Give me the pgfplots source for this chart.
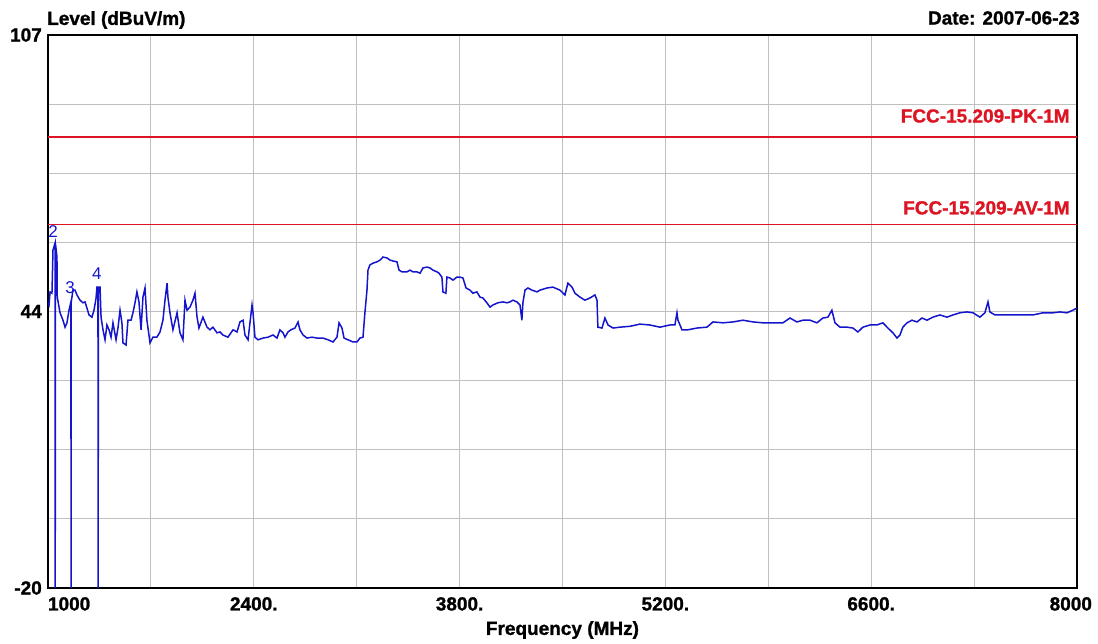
\documentclass[border=0pt]{standalone}
\usepackage{pgfplots}
\pgfplotsset{compat=1.18}
\usepackage{fontspec}
\setmainfont[BoldFeatures={FakeBold=1.2}]{Liberation Sans}

\definecolor{trace}{RGB}{20,20,205}
\definecolor{limitred}{RGB}{220,20,35}
\definecolor{gridc}{RGB}{192,192,192}

\begin{document}
\begin{tikzpicture}
\useasboundingbox (-48pt,-56pt) rectangle (1050pt,588pt);
\begin{axis}[
    name=ax,
    at={(0,0)}, anchor=south west,
    scale only axis,
    width=1029pt, height=553pt,
    xmin=1000, xmax=8000,
    ymin=-20, ymax=107,
    xtick={1000,1700,2400,3100,3800,4500,5200,5900,6600,7300,8000},
    xticklabels={\makebox[0pt][l]{1000},,2400.,,3800.,,5200.,,6600.,,\makebox[0pt][r]{8000\hspace{-15pt}}},
    ytick={-20,-4.125,11.75,27.625,43.5,59.375,75.25,91.125,107},
    yticklabels={-20,,,,44,,,,107},
    major tick length=0pt,
    grid=major,
    major grid style={gridc, line width=1pt},
    axis line style={black, line width=1.8pt},
    tick label style={font=\fontsize{19}{22}\selectfont\bfseries},
    xticklabel style={anchor=north, inner sep=0pt, yshift=-9pt},
    yticklabel style={anchor=east, inner sep=0pt, xshift=-6pt},
    /pgf/number format/assume math mode=true,
    xlabel={Frequency (MHz)},
    xlabel style={font=\fontsize{19}{22}\selectfont\bfseries, at={(axis description cs:0.5,0)}, anchor=center, yshift=-42pt},
    clip=true,
]
% limit lines
\addplot[draw=limitred, line width=1.8pt] coordinates {(1000,83.5) (8000,83.5)};
\addplot[draw=limitred, line width=1.8pt] coordinates {(1000,63.5) (8000,63.5)};

% measured trace
\addplot[trace, line width=1.5pt] coordinates {
(1000,45.5) (1007,45.0) (1014,48.0) (1027,47.7) (1034,57.6) (1048,59.2) (1049,-20) (1051,59.0)
(1061,56.0) (1063,46.8) (1082,43.2) (1102,41.5) (1116,39.9) (1129,40.9) (1143,43.8) (1156,45.7)
(1157,-20) (1158,45.7) (1170,48.4) (1184,48.4) (1197,47.3) (1218,46.1) (1238,45.5) (1252,45.7)
(1265,44.3) (1279,42.7) (1299,42.2) (1313,43.8) (1327,46.6) (1333,49.1) (1340,49.1) (1341,-20)
(1343,49.1) (1354,49.1) (1361,42.2) (1374,39.3) (1388,37.0) (1401,40.4) (1415,39.3) (1429,37.6)
(1442,40.9) (1463,37.0) (1476,39.7) (1490,43.8) (1503,40.9) (1510,36.3) (1531,35.8) (1544,41.5)
(1565,41.5) (1578,43.2) (1592,45.5) (1605,48.0) (1619,45.7) (1633,39.3) (1646,46.8) (1660,48.9)
(1673,41.5) (1694,36.3) (1714,37.6) (1741,37.6) (1762,38.8) (1782,41.5) (1796,46.1) (1810,50.0)
(1816,46.8) (1830,43.2) (1850,39.3) (1878,43.2) (1898,38.6) (1918,37.0) (1932,46.1) (1946,43.8)
(1966,44.5) (1986,46.1) (2000,47.7) (2014,42.2) (2027,39.7) (2054,42.2) (2082,39.9) (2102,39.3)
(2122,39.9) (2150,38.6) (2170,38.8) (2190,38.1) (2224,37.6) (2259,39.3) (2286,38.8) (2306,41.1)
(2327,41.5) (2340,38.1) (2361,37.0) (2374,40.9) (2388,45.0) (2395,43.2) (2408,37.6) (2429,37.0)
(2463,37.4) (2497,37.6) (2531,38.1) (2558,37.4) (2578,39.3) (2599,38.6) (2612,37.6) (2633,38.8)
(2653,39.3) (2680,39.7) (2701,41.1) (2714,39.3) (2735,38.1) (2762,37.4) (2796,37.6) (2830,37.4)
(2871,37.4) (2905,37.0) (2939,36.5) (2966,37.6) (2980,40.9) (3000,39.7) (3014,37.4) (3041,37.0)
(3075,36.5) (3102,36.5) (3122,37.4) (3143,37.6) (3156,43.2) (3170,48.4) (3177,53.0) (3190,54.2)
(3211,54.6) (3238,54.9) (3259,55.3) (3279,56.0) (3306,55.8) (3327,55.3) (3347,55.1) (3374,54.9)
(3388,53.0) (3408,52.6) (3442,52.6) (3463,53.0) (3483,52.6) (3510,52.6) (3531,52.3) (3551,53.5)
(3578,53.7) (3599,53.5) (3619,53.0) (3646,52.6) (3660,52.3) (3680,51.4) (3687,48.0) (3707,47.7)
(3714,51.4) (3735,51.2) (3755,50.7) (3782,51.4) (3803,51.4) (3823,51.2) (3844,48.9) (3871,48.4)
(3891,47.7) (3918,48.0) (3939,46.8) (3959,46.6) (3986,45.5) (4007,44.5) (4027,45.0) (4061,45.5)
(4095,45.7) (4122,45.5) (4143,45.7) (4163,46.1) (4190,45.7) (4211,45.0) (4224,41.5) (4231,45.5)
(4245,48.4) (4265,48.9) (4293,48.4) (4327,48.0) (4347,48.4) (4395,48.9) (4435,49.1) (4483,48.4)
(4517,47.3) (4537,50.0) (4565,49.1) (4585,47.7) (4619,46.8) (4653,46.1) (4687,46.6) (4721,47.3)
(4735,46.1) (4741,39.9) (4769,39.7) (4789,42.0) (4810,40.4) (4844,39.7) (4891,39.9) (4959,40.1)
(5027,40.6) (5095,40.4) (5163,39.9) (5231,40.4) (5265,40.4) (5279,43.2) (5286,41.5) (5313,39.3)
(5354,39.3) (5415,39.7) (5483,39.9) (5524,41.1) (5592,40.9) (5660,41.1) (5728,41.5) (5796,41.1)
(5864,40.9) (5932,40.9) (6000,40.9) (6048,42.0) (6095,41.1) (6136,41.5) (6184,41.5) (6231,40.9)
(6272,42.0) (6306,42.2) (6333,43.8) (6354,40.9) (6388,39.9) (6435,39.9) (6476,39.7) (6510,38.8)
(6544,39.9) (6592,40.4) (6639,40.4) (6680,40.9) (6714,39.7) (6748,38.6) (6776,37.4) (6796,38.1)
(6816,39.9) (6844,40.9) (6878,41.5) (6912,41.1) (6946,42.0) (6980,41.5) (7020,42.2) (7068,42.7)
(7116,42.2) (7156,42.7) (7204,43.2) (7252,43.4) (7293,43.2) (7340,42.2) (7374,43.2) (7395,45.7)
(7408,43.4) (7442,42.7) (7497,42.7) (7565,42.7) (7633,42.7) (7701,42.7) (7769,43.2) (7837,43.2)
(7884,43.4) (7932,43.2) (7973,43.8) (8000,44.3)
};

% limit labels and marker numbers
\node[limitred, anchor=east, inner sep=0pt, font=\fontsize{19}{22}\selectfont\bfseries] at (axis cs:7952,88.4) {FCC-15.209-PK-1M};
\node[limitred, anchor=east, inner sep=0pt, font=\fontsize{19}{22}\selectfont\bfseries] at (axis cs:7952,67.3) {FCC-15.209-AV-1M};
\node[trace, inner sep=0pt, font=\fontsize{17}{20}\selectfont] at (axis cs:1034,61.8) {2};
\node[trace, inner sep=0pt, font=\fontsize{17}{20}\selectfont] at (axis cs:1150,48.9) {3};
\node[trace, inner sep=0pt, font=\fontsize{17}{20}\selectfont] at (axis cs:1333,52.1) {4};
\end{axis}
\node[anchor=west, inner sep=0pt, font=\fontsize{19}{22}\selectfont\bfseries] at ([xshift=-1pt,yshift=15pt]ax.north west) {Level (dBuV/m)};
\node[anchor=east, inner sep=0pt, font=\fontsize{19}{22}\selectfont\bfseries] at ([xshift=3pt,yshift=17pt]ax.north east) {Date: 2007-06-23};
\end{tikzpicture}
\end{document}
